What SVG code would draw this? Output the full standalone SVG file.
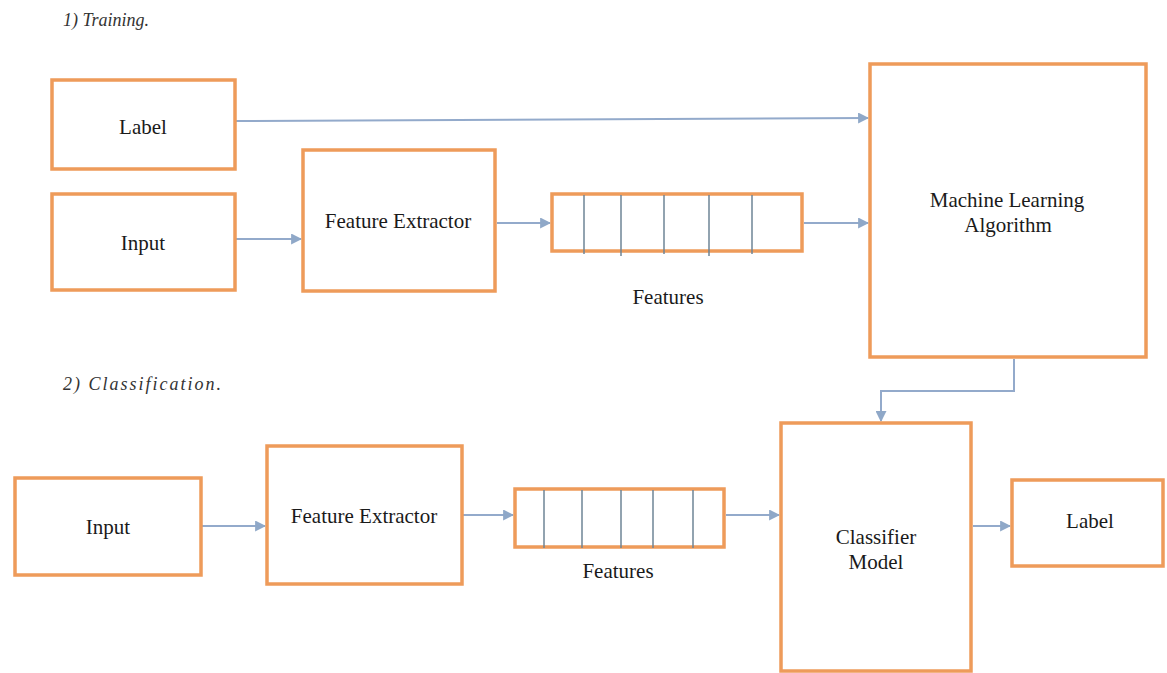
<svg xmlns="http://www.w3.org/2000/svg" width="1167" height="673" viewBox="0 0 1167 673">
<defs>
<style>
.box{fill:#fff;stroke:#EE9B5A;stroke-width:3.5}
.div{stroke:#6E8496;stroke-width:1.5}
.con{fill:none;stroke:#93AACB;stroke-width:2}
.t{font-size:21px;fill:#1a1a1a;text-anchor:middle}
.h{font-size:18px;font-style:italic;fill:#333}
</style>
<marker id="ah" viewBox="0 0 10 10" refX="9" refY="5" markerWidth="11" markerHeight="11" markerUnits="userSpaceOnUse" orient="auto">
<path d="M0,0 L10,5 L0,10 z" fill="#8FA8C8"/>
</marker>
</defs>
<rect width="1167" height="673" fill="#fff"/>
<g font-family="'Liberation Serif', 'DejaVu Serif', serif">
<text class="h" x="63" y="26">1) Training.</text>
<text class="h" x="63" y="390" textLength="158" lengthAdjust="spacing">2)  Classification.</text>

<g id="connectors">
<path class="con" d="M236,121 L868,118" marker-end="url(#ah)"/>
<path class="con" d="M236,239 L301,239" marker-end="url(#ah)"/>
<path class="con" d="M497,223 L550,223" marker-end="url(#ah)"/>
<path class="con" d="M804,223 L868,223" marker-end="url(#ah)"/>
<path class="con" d="M1014,359 L1014,391 L881,391 L881,421" marker-end="url(#ah)"/>
<path class="con" d="M202,526 L265,526" marker-end="url(#ah)"/>
<path class="con" d="M463,515 L513,515" marker-end="url(#ah)"/>
<path class="con" d="M726,515 L779,515" marker-end="url(#ah)"/>
<path class="con" d="M973,526 L1010,526" marker-end="url(#ah)"/>
</g>

<g id="label-train">
<rect class="box" x="52" y="80" width="183" height="89"/>
<text class="t" x="143" y="134">Label</text>
</g>
<g id="input-train">
<rect class="box" x="52" y="194" width="183" height="96"/>
<text class="t" x="143" y="250">Input</text>
</g>
<g id="fe-train">
<rect class="box" x="303" y="150" width="192" height="141"/>
<text class="t" x="398" y="228">Feature Extractor</text>
</g>
<g id="features-train">
<rect class="box" x="552" y="194" width="250" height="57"/>
<line class="div" x1="584" y1="195" x2="584" y2="254"/>
<line class="div" x1="621" y1="195" x2="621" y2="256"/>
<line class="div" x1="664" y1="195" x2="664" y2="254"/>
<line class="div" x1="709" y1="195" x2="709" y2="256"/>
<line class="div" x1="752" y1="195" x2="752" y2="254"/>
<text class="t" x="668" y="304">Features</text>
</g>
<g id="ml">
<rect class="box" x="870" y="64" width="276" height="293"/>
<text class="t" x="1007" y="207">Machine Learning</text>
<text class="t" x="1008" y="232">Algorithm</text>
</g>

<g id="input-class">
<rect class="box" x="15" y="478" width="186" height="97"/>
<text class="t" x="108" y="534">Input</text>
</g>
<g id="fe-class">
<rect class="box" x="267" y="446" width="195" height="138"/>
<text class="t" x="364" y="523">Feature Extractor</text>
</g>
<g id="features-class">
<rect class="box" x="515" y="489" width="209" height="58"/>
<line class="div" x1="544" y1="490" x2="544" y2="548"/>
<line class="div" x1="582" y1="490" x2="582" y2="548"/>
<line class="div" x1="621" y1="490" x2="621" y2="548"/>
<line class="div" x1="653" y1="490" x2="653" y2="548"/>
<line class="div" x1="693" y1="490" x2="693" y2="548"/>
<text class="t" x="618" y="578">Features</text>
</g>
<g id="classifier">
<rect class="box" x="781" y="423" width="190" height="248"/>
<text class="t" x="876" y="544">Classifier</text>
<text class="t" x="876" y="569">Model</text>
</g>
<g id="label-class">
<rect class="box" x="1012" y="480" width="151" height="86"/>
<text class="t" x="1090" y="528">Label</text>
</g>
</g>
</svg>
